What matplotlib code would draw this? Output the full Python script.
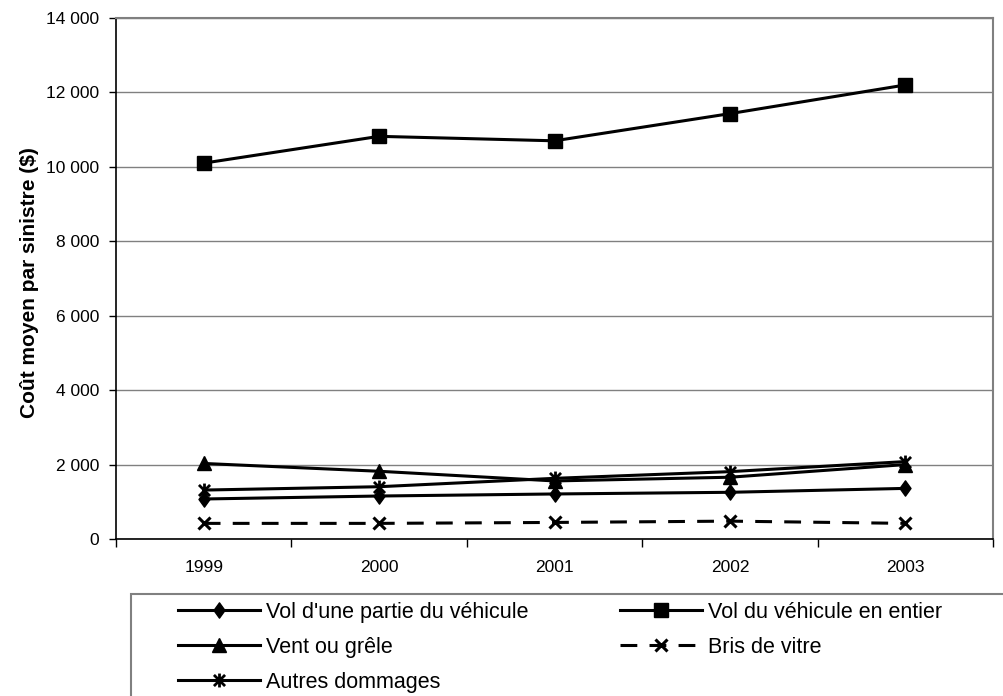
import matplotlib
matplotlib.use("Agg")
import matplotlib.pyplot as plt
from matplotlib.path import Path
from matplotlib.patches import Rectangle
from matplotlib.ticker import FuncFormatter, FixedLocator

plt.rcParams['font.family'] = ['Liberation Sans', 'DejaVu Sans']

years = ["1999", "2000", "2001", "2002", "2003"]
vol_partie = [1075, 1155, 1210, 1255, 1360]
vol_entier = [10100, 10820, 10700, 11430, 12200]
vent_grele = [2030, 1820, 1560, 1660, 2000]
bris_vitre = [420, 420, 445, 480, 420]
autres = [1315, 1405, 1630, 1810, 2080]

labels = ["Vol d'une partie du véhicule", "Vol du véhicule en entier",
          "Vent ou grêle", "Bris de vitre", "Autres dommages"]

# asterisk marker: vertical stroke plus an X
star = Path([(0, -1), (0, 1), (-0.8, -0.8), (0.8, 0.8), (-0.8, 0.8), (0.8, -0.8)],
            [Path.MOVETO, Path.LINETO, Path.MOVETO, Path.LINETO, Path.MOVETO, Path.LINETO])
# narrow diamond marker
diamond = Path([(0, 1), (0.72, 0), (0, -1), (-0.72, 0), (0, 1)],
               [Path.MOVETO, Path.LINETO, Path.LINETO, Path.LINETO, Path.CLOSEPOLY])

fig = plt.figure(figsize=(10.04, 6.96), dpi=100)
ax = fig.add_axes([116 / 1004, 1 - 539 / 696, (993 - 116) / 1004, (539 - 18) / 696])

x = list(range(len(years)))
lw = 2.2
h1, = ax.plot(x, vol_partie, color='black', lw=lw, marker=diamond, ms=11, mfc='black', mec='black', mew=1)
h2, = ax.plot(x, vol_entier, color='black', lw=lw, marker='s', ms=10.5, mfc='black', mec='black')
h3, = ax.plot(x, vent_grele, color='black', lw=lw, marker='^', ms=9.5, mfc='black', mec='black')
h4, = ax.plot(x, bris_vitre, color='black', lw=lw, marker='x', ms=8, mew=2.2,
              dashes=(5.5, 4))
h5, = ax.plot(x, autres, color='black', lw=lw, marker=star, ms=10, mew=2, mec='black')

ax.set_xlim(-0.5, len(years) - 0.5)
ax.set_ylim(0, 14000)
ax.set_yticks(range(0, 14001, 2000))
ax.yaxis.set_major_formatter(FuncFormatter(lambda v, p: f"{int(v):,}".replace(",", " ")))
ax.grid(axis='y', color='#808080', lw=1)
ax.set_axisbelow(True)

ax.set_xticks(x)
ax.set_xticklabels(years)
ax.xaxis.set_minor_locator(FixedLocator([i - 0.5 for i in range(len(years) + 1)]))
ax.tick_params(axis='x', which='major', length=0, pad=15, labelsize=12.5)
ax.tick_params(axis='x', which='minor', length=6, width=1, color='black', direction='out')
ax.tick_params(axis='y', length=5, width=1, color='black', labelsize=12.5, pad=7)

for side in ('top', 'right'):
    ax.spines[side].set_color('#808080')
    ax.spines[side].set_linewidth(1.5)
for side in ('left', 'bottom'):
    ax.spines[side].set_color('black')
    ax.spines[side].set_linewidth(1.2)

ax.set_ylabel("Coût moyen par sinistre ($)", fontsize=15, fontweight='bold')
ax.yaxis.set_label_coords(-0.088, 0.493)

# legend box
fig.patches.append(Rectangle((131 / 1004, -0.05), 1.0, 1 - 594 / 696 + 0.05,
                             transform=fig.transFigure, fill=False,
                             edgecolor='#808080', lw=1.5))

leg = fig.legend([h1, h3, h5, h2, h4],
                 [labels[0], labels[2], labels[4], labels[1], labels[3]],
                 ncol=2, loc='upper left',
                 bbox_to_anchor=(178 / 1004, 1 - 602 / 696),
                 frameon=False, fontsize=15.5, handlelength=3.8,
                 handletextpad=0.28, columnspacing=4.25, labelspacing=0.64,
                 borderpad=0, borderaxespad=0)

fig.savefig("out.png", dpi=100)
